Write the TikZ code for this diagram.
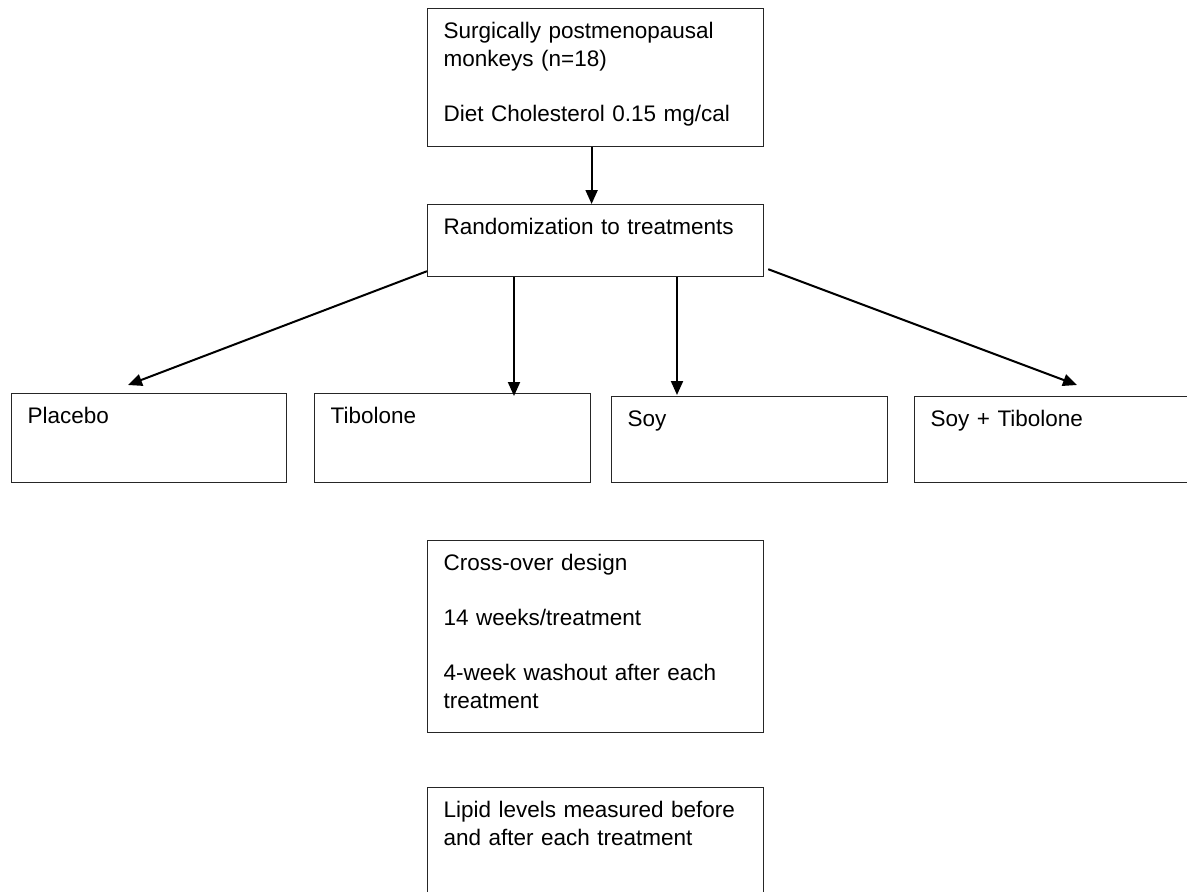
\documentclass[tikz,border=0pt]{standalone}
\usepackage{fontspec}
\setmainfont{Liberation Sans}
\usetikzlibrary{arrows.meta,calc}
\begin{document}
\begin{tikzpicture}[x=1pt,y=-1pt,
  box/.style={draw=black!85, line width=1.2pt, anchor=north west, align=left,
    inner xsep=16pt, inner ysep=0pt, text height=30pt,
    font=\fontsize{22.5}{27.5}\selectfont},
  arr/.style={draw=black, line width=2pt, -{Triangle[length=14pt,width=12pt]}}]
\useasboundingbox (0,0) rectangle (1187,892);
\begin{scope}
\clip (0,0) rectangle (1187,892);
\node[box, text width=304pt, text depth=108pt] (top) at (427,8)
  {Surgically postmenopausal\\monkeys (n=18)\\[27.5pt]Diet Cholesterol 0.15 mg/cal};
\node[box, text width=304pt, text depth=42pt] (rand) at (427,204)
  {Randomization to treatments};
\node[box, text width=243pt, text depth=59pt] (plac) at (11,393) {Placebo};
\node[box, text width=244pt, text depth=59pt] (tib) at (314,393) {Tibolone};
\node[box, text width=244pt, text depth=56pt] (soy) at (611,396) {Soy};
\node[box, text width=244pt, text depth=56pt] (soytib) at (914,396) {Soy + Tibolone};
\node[box, text width=304pt, text depth=162pt] (cross) at (427,540)
  {Cross-over design\\[27.5pt]14 weeks/treatment\\[27.5pt]4-week washout after each\\treatment};
\node[box, text width=304pt, text depth=90pt] (lipid) at (427,787)
  {Lipid levels measured before\\and after each treatment};
\end{scope}
\draw[arr] ([xshift=-4pt]top.south) -- ([xshift=-4pt]top.south |- rand.north);
\draw[arr] ([yshift=6pt]rand.south west) -- ([shift={(117,-8)}]plac.north west);
\draw[arr] ([xshift=87pt]rand.south west) -- ([shift={(200,3)}]tib.north west);
\draw[arr] ([xshift=250pt]rand.south west) -- ([shift={(66,-1)}]soy.north west);
\draw[arr] ([shift={(4,-8)}]rand.south east) -- ([shift={(163,-11)}]soytib.north west);
\end{tikzpicture}
\end{document}
